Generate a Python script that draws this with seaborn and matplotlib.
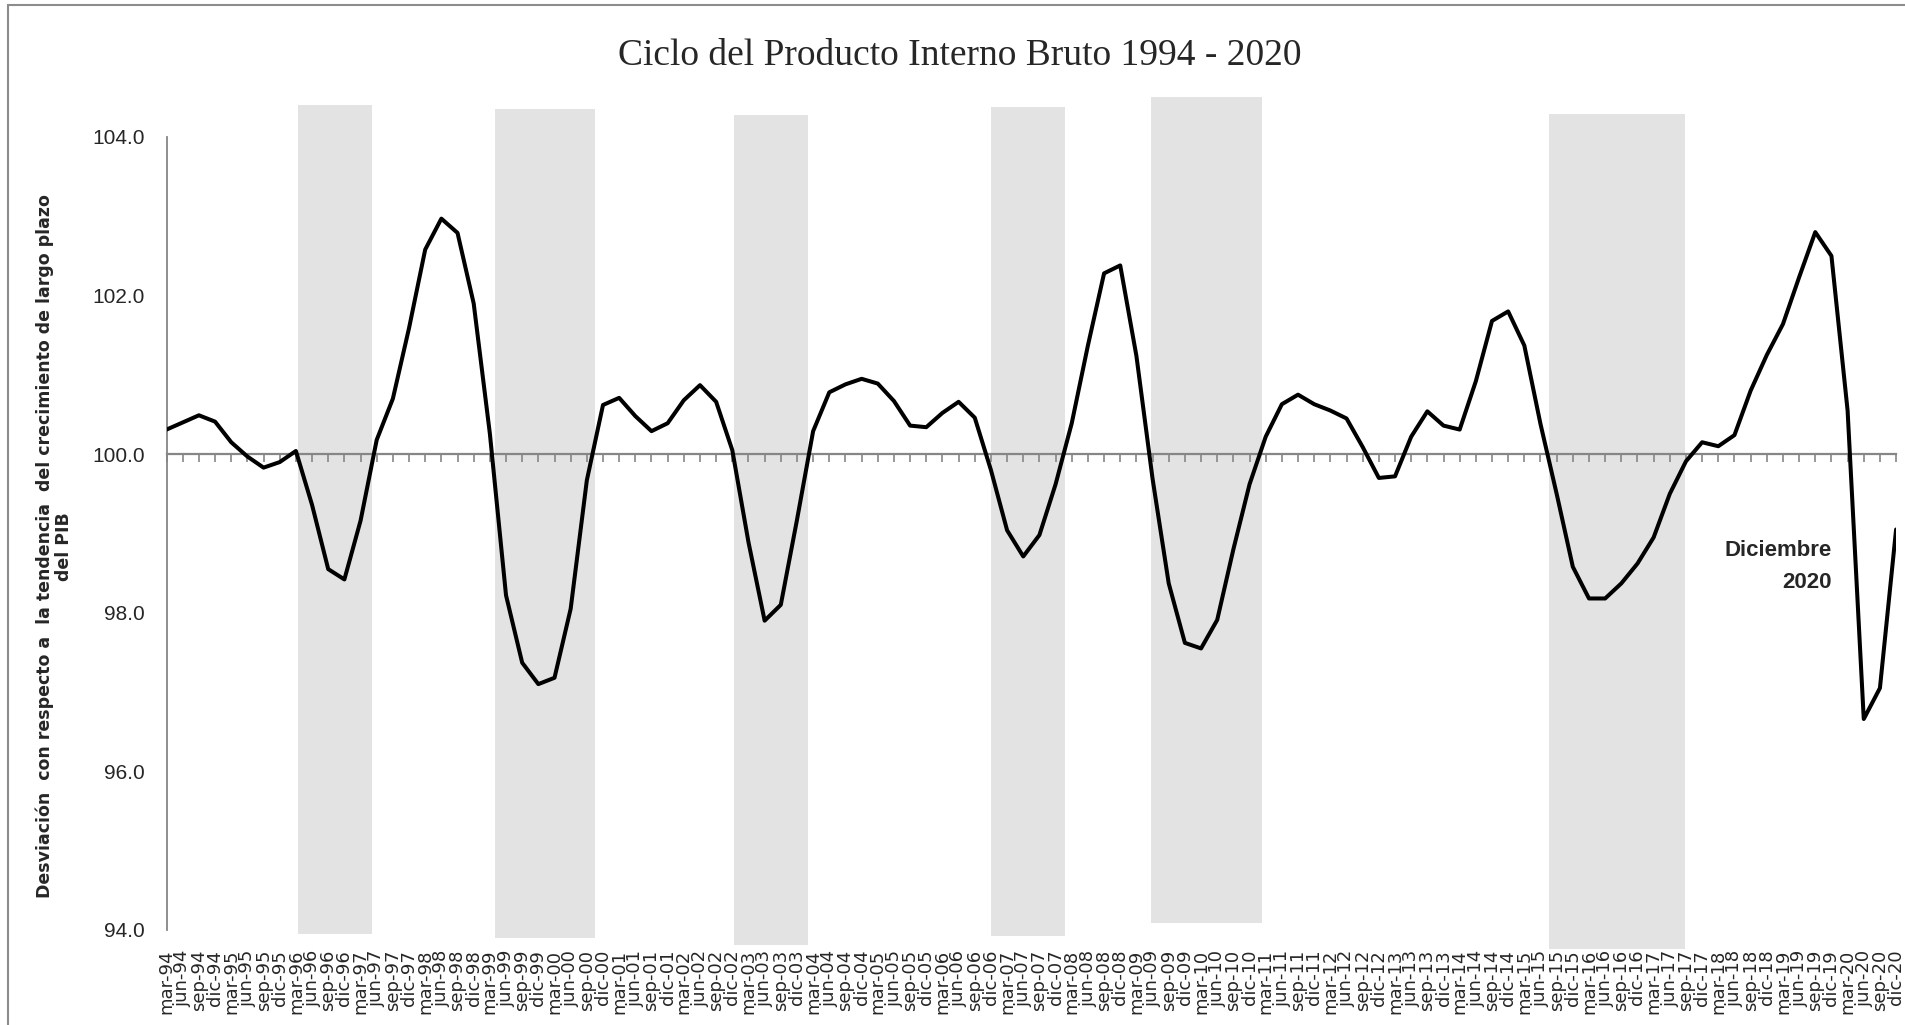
import numpy as np
import pandas as pd
import seaborn as sns
import matplotlib.pyplot as plt
from matplotlib import font_manager
from matplotlib.patches import Rectangle

# quarters on the x axis: mar-94 ... dic-20
months = ['mar', 'jun', 'sep', 'dic']
years = list(range(1994, 2021))
periods = [f'{m}-{y % 100:02d}' for y in years for m in months]

# GDP cycle (long run trend = 100), one value per quarter
ciclo = [
    100.31, 100.40, 100.49, 100.41, 100.15, 99.97, 99.83, 99.90,     # 94-95
    100.04, 99.36, 98.55, 98.42, 99.16, 100.18, 100.70, 101.59,      # 96-97
    102.58, 102.97, 102.79, 101.90, 100.26, 98.22, 97.37, 97.10,     # 98-99
    97.18, 98.05, 99.67, 100.62, 100.71, 100.48, 100.29, 100.39,     # 00-01
    100.68, 100.87, 100.66, 100.05, 98.89, 97.90, 98.10, 99.17,      # 02-03
    100.29, 100.78, 100.88, 100.95, 100.89, 100.67, 100.36, 100.34,  # 04-05
    100.52, 100.66, 100.46, 99.80, 99.04, 98.71, 98.98, 99.62,       # 06-07
    100.39, 101.37, 102.28, 102.38, 101.24, 99.69, 98.37, 97.62,     # 08-09
    97.55, 97.91, 98.80, 99.62, 100.22, 100.63, 100.75, 100.63,      # 10-11
    100.55, 100.45, 100.09, 99.70, 99.72, 100.22, 100.54, 100.36,    # 12-13
    100.31, 100.92, 101.68, 101.80, 101.37, 100.38, 99.50, 98.58,    # 14-15
    98.18, 98.18, 98.37, 98.62, 98.95, 99.50, 99.91, 100.15,         # 16-17
    100.10, 100.24, 100.80, 101.25, 101.64, 102.23, 102.80, 102.50,  # 18-19
    100.55, 96.66, 97.05, 99.05,                                     # 20
]

# shaded periods, in quarter positions along the axis
band_start = [8.1, 20.3, 35.1, 51.0, 60.9, 85.55]
band_end = [12.7, 26.5, 39.7, 55.6, 67.75, 93.95]
band_top = [104.40, 104.35, 104.28, 104.38, 104.50, 104.29]
band_bottom = [93.95, 93.90, 93.81, 93.92, 94.09, 93.76]

yticks = [94.0, 96.0, 98.0, 100.0, 102.0, 104.0]

df = pd.DataFrame({'periodo': periods, 'ciclo': ciclo})
df['pos'] = np.arange(len(df))

sns.set_style('white')
plt.rcParams['font.family'] = ['DejaVu Sans']

# narrow sans for the numbers, if the system has it
names = {f.name for f in font_manager.fontManager.ttflist}
narrow = 'Liberation Sans Narrow' if 'Liberation Sans Narrow' in names else 'Liberation Sans'

grey = '#868686'

fig = plt.figure(figsize=(19.06, 10.25), dpi=100)
ax = fig.add_axes([0.0874, 0.0734, 0.9074, 0.8394])

# shaded bands
ax.bar(band_start, np.subtract(band_top, band_bottom),
       width=np.subtract(band_end, band_start), bottom=band_bottom,
       align='edge', color='#e3e3e3', linewidth=0, zorder=1)

sns.lineplot(data=df, x='pos', y='ciclo', color='black', linewidth=2.9,
             ax=ax, zorder=3)

ax.set_xlim(0, len(df) - 1)
ax.set_ylim(93.75, 104.6)
ax.set_xlabel('')
ax.set_ylabel('')

# category labels along the bottom
ax.set_xticks(df['pos'])
ax.set_xticklabels(df['periodo'], rotation=90, fontsize=13, family='DejaVu Sans')
ax.tick_params(axis='x', length=0, pad=0)

ax.set_yticks(yticks)
ax.set_yticklabels([f'{v:.1f}' for v in yticks], fontsize=15, family=narrow)
ax.tick_params(axis='y', length=5, width=1.2, color=grey, pad=10.5)

for s in ['top', 'right', 'bottom']:
    ax.spines[s].set_visible(False)
ax.spines['left'].set_bounds(94, 104)
ax.spines['left'].set_color(grey)
ax.spines['left'].set_linewidth(1.3)

# horizontal axis crosses at 100, ticks below it
sec = ax.secondary_xaxis(100, transform=ax.transData)
sec.set_alignment('bottom')
sec.set_xticks(df['pos'])
sec.tick_params(axis='x', direction='out', length=6, width=1.2, color=grey,
                labelbottom=False, labeltop=False)
sec.spines['bottom'].set_color(grey)
sec.spines['bottom'].set_linewidth(1.6)
sec.set_zorder(2)

ax.text(103.0, 98.58, 'Diciembre\n2020', ha='right', va='center',
        multialignment='right', fontsize=16, fontweight='bold',
        family=narrow, linespacing=1.7)

fig.text(0.5036, 0.946, 'Ciclo del Producto Interno Bruto 1994 - 2020',
         ha='center', va='center', fontsize=27, family='Liberation Serif')

fig.text(0.0286, 0.4668,
         'Desviación  con respecto a  la tendencia  del crecimiento de largo plazo\ndel PIB',
         rotation=90, ha='center', va='center', multialignment='center',
         fontsize=12.5, fontweight='bold', family='DejaVu Sans', linespacing=1.05)

# chart area border
fig.patches.append(Rectangle((0.004, -0.1), 1.2, 1.0951, transform=fig.transFigure,
                             fill=False, edgecolor='#8c8c8c', linewidth=1.5))

fig.savefig('out.png', dpi=100)
